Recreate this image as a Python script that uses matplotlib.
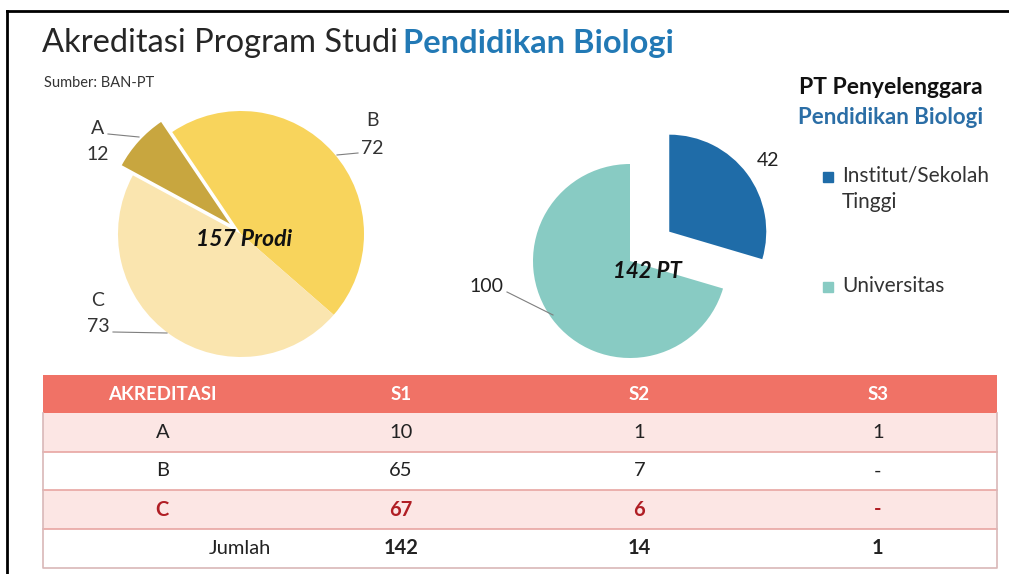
import matplotlib.pyplot as plt
from matplotlib.patches import Rectangle

plt.rcParams['font.family'] = ['Lato', 'DejaVu Sans']

# data
akr_labels = ['A', 'B', 'C']
akr_values = [12, 72, 73]
pt_labels = ['Institut/Sekolah\nTinggi', 'Universitas']
pt_values = [42, 100]

tbl_header = ['AKREDITASI', 'S1', 'S2', 'S3']
tbl_rows = [
    ['A', '10', '1', '1'],
    ['B', '65', '7', '-'],
    ['C', '67', '6', '-'],
    ['Jumlah', '142', '14', '1'],
]

W, H = 1009, 574
fig = plt.figure(figsize=(W / 100, H / 100), dpi=100)
ax = fig.add_axes([0, 0, 1, 1])
ax.set_xlim(0, W)
ax.set_ylim(0, H)

def Y(y):
    # pixel row -> data y
    return H - y

# frame lines (top and left)
ax.plot([7, W], [Y(11), Y(11)], color='black', lw=2)
ax.plot([7, 7], [Y(11), 0], color='black', lw=2)

# title
t1 = ax.text(42, Y(43), 'Akreditasi Program Studi ', fontsize=23.5, va='center', ha='left', color='#262626')
fig.canvas.draw()
bb = t1.get_window_extent()
ax.text(bb.x1 - 3, Y(43), 'Pendidikan Biologi', fontsize=23.5, fontweight='bold', va='center', ha='left',
        color='#2279B5')
ax.text(44, Y(83), 'Sumber: BAN-PT', fontsize=10.5, va='center', color='#333333')

# left pie: order clockwise B, C, A
cx, cy, r = 241, Y(234), 123
order = [1, 2, 0]
cols_left = {'A': '#C8A63F', 'B': '#F8D45C', 'C': '#FAE5AF'}
vals = [akr_values[i] for i in order]
labs = [akr_labels[i] for i in order]
ax.pie(vals, center=(cx, cy), radius=r, startangle=124, counterclock=False,
       colors=[cols_left[l] for l in labs],
       explode=[0, 0, 15],
       wedgeprops=dict(edgecolor='none'))

# labels + leader lines for left pie
lab_pos = {'A': ((98, 128), (98, 155), (108, 134), (139, 137)),
           'B': ((372, 120), (372, 148), (358, 153), (337, 155)),
           'C': ((98, 300), (98, 327), (113, 332), (167, 333))}
for l, v in zip(akr_labels, akr_values):
    (lx, ly), (vx, vy), p0, p1 = lab_pos[l]
    ax.text(lx, Y(ly), l, fontsize=14, ha='center', va='center', color='#333333')
    ax.text(vx, Y(vy), str(v), fontsize=14, ha='center', va='center', color='#333333')
    ax.plot([p0[0], p1[0]], [Y(p0[1]), Y(p1[1])], color='#7f7f7f', lw=0.8)

ax.text(244, Y(240), '%d Prodi' % sum(akr_values), fontsize=16.5, fontweight='bold', style='italic',
        ha='center', va='center', color='#111111')

# right pie
cols_right = ['#1F6CA8', '#88CBC3']
rcx, rcy, rr = 630, Y(261), 97
ax.pie(pt_values, center=(rcx, rcy), radius=rr, startangle=90, counterclock=False,
       colors=cols_right, explode=[49, 0], wedgeprops=dict(edgecolor='none'))
ax.text(768, Y(160), str(pt_values[0]), fontsize=14, ha='center', va='center', color='#222222')
ax.text(486, Y(287), str(pt_values[1]), fontsize=14, ha='center', va='center', color='#222222')
ax.plot([507, 553], [Y(292), Y(315)], color='#7f7f7f', lw=0.8)
ax.text(647, Y(272), '%d PT' % sum(pt_values), fontsize=16, fontweight='bold', style='italic',
        ha='center', va='center', color='#111111')

# legend
ax.text(983, Y(88), 'PT Penyelenggara', fontsize=16.5, fontweight='bold', ha='right', va='center',
        color='#111111')
ax.text(983, Y(118), 'Pendidikan Biologi', fontsize=16, fontweight='bold', ha='right', va='center',
        color='#2B6EA6')
leg_y = [177, 287]
for lab, c, yy in zip(pt_labels, cols_right, leg_y):
    ax.add_patch(Rectangle((823, Y(yy) - 5), 10, 10, color=c))
    ax.text(842, Y(yy) + 11, lab, fontsize=15, ha='left', va='top', color='#333333', linespacing=1.35)

# table
x0, x1 = 43, 997
col_w = (x1 - x0) / len(tbl_header)
row_y = [375, 413, 452, 490, 529, 568]
ax.add_patch(Rectangle((x0, Y(row_y[1])), x1 - x0, row_y[1] - row_y[0], color='#F07266', lw=0))
for j, h in enumerate(tbl_header):
    ax.text(x0 + col_w * (j + 0.5), Y((row_y[0] + row_y[1]) / 2), h, fontsize=13.5, fontweight='bold',
            ha='center', va='center', color='white')
for i, row in enumerate(tbl_rows):
    top, bot = row_y[i + 1], row_y[i + 2]
    fc = '#FCE6E4' if i % 2 == 0 else 'white'
    ax.add_patch(Rectangle((x0, Y(bot)), x1 - x0, bot - top, facecolor=fc, edgecolor='none'))
    if i < len(tbl_rows) - 1:
        ax.plot([x0, x1], [Y(bot), Y(bot)], color='#E8A6A2', lw=1.2)
    for j, cell in enumerate(row):
        bold = (i == 2) or (i == 3 and j > 0)
        color = '#B01E24' if i == 2 else '#222222'
        xc = x0 + col_w * (j + 0.5)
        if cell == 'Jumlah':
            xc += 78
        ax.text(xc, Y((top + bot) / 2), cell, fontsize=14.5,
                fontweight='bold' if bold else 'normal', ha='center', va='center', color=color)
ax.plot([x0, x0, x1, x1], [Y(row_y[1]), Y(row_y[-1]), Y(row_y[-1]), Y(row_y[1])], color='#D9B8B8', lw=1.2)

ax.set_xlim(0, W)
ax.set_ylim(0, H)
ax.set_aspect('auto')
ax.axis('off')

fig.savefig('out.png', dpi=100)
